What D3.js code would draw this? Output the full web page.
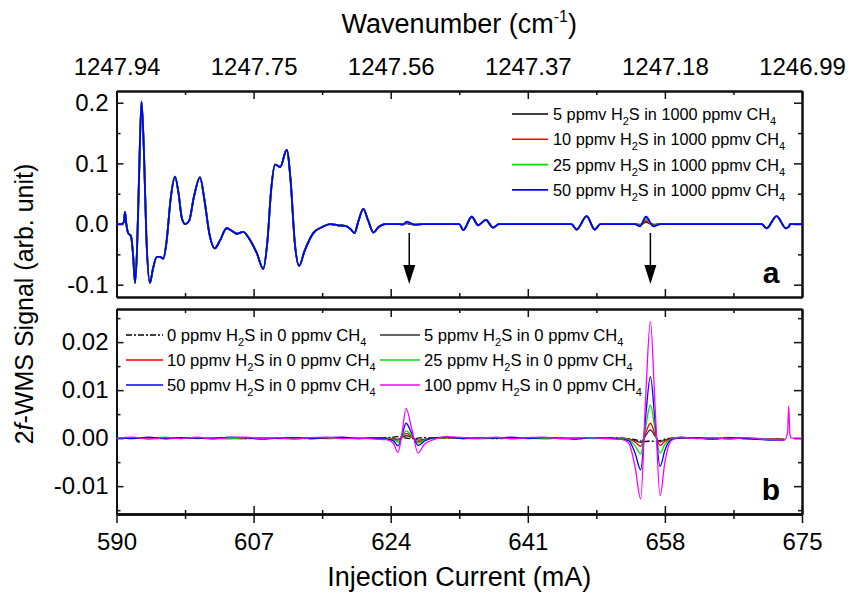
<!DOCTYPE html>
<html>
<head>
<meta charset="utf-8">
<script src="https://cdn.jsdelivr.net/npm/d3@7"></script>
<style>
  body { margin: 0; background: #fff; }
  text { font-family: Arial, "Liberation Sans", sans-serif; }
</style>
</head>
<body>
<svg id="chart" width="849" height="592"></svg>
<script>
// ---- axis ticks ----
const currentTicks = [590, 607, 624, 641, 658, 675]
const currentMinor = [598.5, 615.5, 632.5, 649.5, 666.5]
const wavenumberTicks = ['1247.94', '1247.75', '1247.56', '1247.37', '1247.18', '1246.99']
const aTicks = [-0.1, 0, 0.1, 0.2]
const aMinor = [-0.05, 0.05, 0.15]
const bTicks = [-0.01, 0, 0.01, 0.02]
const bMinor = [-0.015, -0.005, 0.005, 0.015, 0.025]

// ---- panel a: H2S in 1000 ppmv CH4 ----
const aCurrent = [590.0, 590.6, 590.9, 591.05, 591.2, 591.45, 591.8, 592.05, 592.3, 592.55,
  592.8, 593.1, 593.4, 593.7, 594.15, 594.5, 595.0, 595.4, 595.8, 596.2,
  596.7, 597.25, 597.7, 598.1, 598.5, 599.0, 599.6, 600.35, 600.9, 601.5,
  602.2, 602.8, 603.65, 604.3, 604.9, 605.7, 606.5, 607.4, 608.2, 608.7,
  609.2, 609.65, 610.3, 611.1, 611.6, 612.1, 612.65, 613.3, 614.4, 615.5,
  616.5, 617.4, 618.35, 619.0, 619.5, 620.0, 620.6, 621.2, 621.85, 622.5,
  623.3, 625.0, 625.5, 626.0, 626.5, 627.0, 628.0, 632.5, 633.0, 634.05,
  634.85, 635.8, 636.7, 637.4, 646.4, 647.05, 648.3, 649.3, 650.0, 654.3,
  654.9, 655.65, 656.6, 657.4, 670.0, 670.6, 671.85, 673.0, 673.4, 673.5, 675.0]
const aH2S5 = [0.000, 0.000, 0.003, 0.020, 0.002, -0.015, -0.020, -0.050, -0.097, -0.040,
  0.080, 0.202, 0.120, -0.020, -0.097, -0.075, -0.054, -0.054, -0.057, -0.030,
  0.040, 0.078, 0.050, 0.010, 0.000, 0.005, 0.045, 0.077, 0.040, -0.015,
  -0.040, -0.028, -0.007, -0.011, -0.016, -0.013, -0.025, -0.048, -0.074, -0.030,
  0.060, 0.098, 0.094, 0.122, 0.070, -0.030, -0.069, -0.045, -0.015, -0.005,
  0.000, -0.002, -0.003, -0.008, -0.015, 0.005, 0.025, 0.006, -0.014, -0.005,
  0.000, 0.000, 0.000, 0.001, 0.000, -0.001, 0.000, 0.000, -0.010, 0.012,
  -0.002, 0.007, -0.006, 0.000, 0.000, -0.009, 0.013, -0.009, 0.000, 0.000,
  -0.001, 0.003, -0.001, 0.000, 0.000, -0.007, 0.013, -0.007, -0.004, 0.000, 0.000]
const aH2S10 = [0.000, 0.000, 0.003, 0.020, 0.002, -0.015, -0.020, -0.050, -0.097, -0.040,
  0.080, 0.202, 0.120, -0.020, -0.097, -0.075, -0.054, -0.054, -0.057, -0.030,
  0.040, 0.078, 0.050, 0.010, 0.000, 0.005, 0.045, 0.077, 0.040, -0.015,
  -0.040, -0.028, -0.007, -0.011, -0.016, -0.013, -0.025, -0.048, -0.074, -0.030,
  0.060, 0.098, 0.094, 0.122, 0.070, -0.030, -0.069, -0.045, -0.015, -0.005,
  0.000, -0.002, -0.003, -0.008, -0.015, 0.005, 0.025, 0.006, -0.014, -0.005,
  0.000, 0.000, -0.0005, 0.002, 0.0005, -0.001, 0.000, 0.000, -0.010, 0.012,
  -0.002, 0.007, -0.006, 0.000, 0.000, -0.009, 0.013, -0.009, 0.000, 0.000,
  -0.002, 0.005, -0.002, 0.000, 0.000, -0.007, 0.013, -0.007, -0.004, 0.000, 0.000]
const aH2S25 = [0.000, 0.000, 0.003, 0.020, 0.002, -0.015, -0.020, -0.050, -0.097, -0.040,
  0.080, 0.202, 0.120, -0.020, -0.097, -0.075, -0.054, -0.054, -0.057, -0.030,
  0.040, 0.078, 0.050, 0.010, 0.000, 0.005, 0.045, 0.077, 0.040, -0.015,
  -0.040, -0.028, -0.007, -0.011, -0.016, -0.013, -0.025, -0.048, -0.074, -0.030,
  0.060, 0.098, 0.094, 0.122, 0.070, -0.030, -0.069, -0.045, -0.015, -0.005,
  0.000, -0.002, -0.003, -0.008, -0.015, 0.005, 0.025, 0.006, -0.014, -0.005,
  0.000, 0.000, -0.001, 0.003, 0.001, -0.001, 0.000, 0.000, -0.010, 0.012,
  -0.002, 0.007, -0.006, 0.000, 0.000, -0.009, 0.013, -0.009, 0.000, 0.000,
  -0.003, 0.009, -0.003, 0.000, 0.000, -0.007, 0.013, -0.007, -0.004, 0.000, 0.000]
const aH2S50 = [0.000, 0.000, 0.003, 0.020, 0.002, -0.015, -0.020, -0.050, -0.097, -0.040,
  0.080, 0.202, 0.120, -0.020, -0.097, -0.075, -0.054, -0.054, -0.057, -0.030,
  0.040, 0.078, 0.050, 0.010, 0.000, 0.005, 0.045, 0.077, 0.040, -0.015,
  -0.040, -0.028, -0.007, -0.011, -0.016, -0.013, -0.025, -0.048, -0.074, -0.030,
  0.060, 0.098, 0.094, 0.122, 0.070, -0.030, -0.069, -0.045, -0.015, -0.005,
  0.000, -0.002, -0.003, -0.008, -0.015, 0.005, 0.025, 0.006, -0.014, -0.005,
  0.000, 0.000, -0.001, 0.004, 0.001, -0.001, 0.000, 0.000, -0.010, 0.012,
  -0.002, 0.007, -0.006, 0.000, 0.000, -0.009, 0.013, -0.009, 0.000, 0.000,
  -0.004, 0.012, -0.004, 0.000, 0.000, -0.007, 0.013, -0.007, -0.004, 0.000, 0.000]
const aLabels = ['5 ppmv H_2S in 1000 ppmv CH_4', '10 ppmv H_2S in 1000 ppmv CH_4',
  '25 ppmv H_2S in 1000 ppmv CH_4', '50 ppmv H_2S in 1000 ppmv CH_4']
const aColors = ['#000000', '#ff0000', '#00e000', '#0000ff']
const arrowsAt = [626.3, 656.2]

// ---- panel b: H2S in 0 ppmv CH4 ----
const bCurrent = [590, 592, 594, 596, 598, 600, 602, 604, 606, 608,
  610, 612, 614, 616, 618, 620, 622, 623.5, 624.3, 624.9,
  625.4, 625.9, 626.6, 627.4, 628.2, 629.5, 631, 633, 635, 637,
  639, 641, 643, 645, 647, 649, 651, 652.5, 653.5, 654.3,
  655.0, 655.6, 656.2, 656.8, 657.4, 658.0, 658.8, 660, 662, 664,
  666, 668, 670, 671.5, 672.8, 673.2, 673.35, 673.5, 673.7, 674, 675]
const bH2S0 = [0.0000, 0.0001, 0.0000, -0.0001, 0.0001, 0.0000, 0.0001, 0.0000, -0.0001, 0.0000,
  0.0001, 0.0000, -0.0001, 0.0000, 0.0001, 0.0000, 0.0000, 0.0001, 0.0002, 0.0003,
  0.0002, 0.0000, -0.0001, 0.0000, 0.0001, 0.0000, 0.0000, 0.0001, 0.0000, -0.0001,
  0.0000, 0.0001, 0.0000, 0.0000, -0.0001, 0.0000, 0.0001, 0.0000, -0.0001, -0.0003,
  -0.0006, -0.0007, -0.0006, -0.0007, -0.0005, -0.0002, 0.0000, 0.0001, 0.0000, -0.0001,
  0.0000, -0.0001, -0.0001, -0.0002, -0.0002, null, null, null, null, null, null]
const bH2S5 = [0.0001, 0.0000, 0.0001, -0.0001, 0.0000, 0.0001, 0.0000, -0.0001, 0.0000, 0.0001,
  0.0000, -0.0001, 0.0000, 0.0001, 0.0000, -0.0001, 0.0001, 0.0000, -0.0001, -0.0002,
  0.0001, 0.0005, 0.0002, -0.0004, -0.0002, 0.0000, 0.0001, 0.0000, -0.0001, 0.0000,
  0.0001, 0.0000, -0.0001, 0.0000, 0.0001, 0.0000, -0.0001, 0.0000, -0.0002, -0.0005,
  -0.0009, 0.0005, 0.0017, 0.0004, -0.0008, -0.0004, -0.0001, 0.0000, 0.0001, 0.0000,
  -0.0001, 0.0000, -0.0001, -0.0002, -0.0002, null, null, null, null, null, null]
const bH2S10 = [0.0000, 0.0001, -0.0001, 0.0000, 0.0001, -0.0001, 0.0001, 0.0000, -0.0001, 0.0001,
  -0.0001, 0.0000, 0.0001, -0.0001, 0.0000, 0.0001, 0.0000, -0.0001, -0.0002, -0.0004,
  0.0001, 0.0010, 0.0003, -0.0008, -0.0003, 0.0000, 0.0001, -0.0001, 0.0000, 0.0001,
  -0.0001, 0.0000, 0.0001, -0.0001, 0.0000, 0.0001, 0.0000, -0.0001, -0.0002, -0.0008,
  -0.0017, 0.0010, 0.0031, 0.0007, -0.0015, -0.0007, -0.0001, 0.0001, 0.0000, -0.0001,
  0.0000, -0.0001, -0.0002, -0.0002, -0.0003, null, null, null, null, null, null]
const bH2S25 = [-0.0001, 0.0001, 0.0000, 0.0002, -0.0001, 0.0001, 0.0000, -0.0001, 0.0001, 0.0000,
  0.0001, -0.0001, 0.0000, 0.0001, -0.0001, 0.0001, -0.0001, -0.0001, -0.0003, -0.0008,
  0.0002, 0.0015, 0.0005, -0.0010, -0.0004, 0.0000, 0.0001, 0.0000, -0.0001, 0.0001,
  0.0000, 0.0001, -0.0001, 0.0000, 0.0001, -0.0001, 0.0000, -0.0001, -0.0003, -0.0016,
  -0.0033, 0.0022, 0.0069, 0.0016, -0.0031, -0.0013, -0.0002, 0.0002, -0.0001, 0.0000,
  -0.0001, 0.0000, -0.0002, -0.0003, -0.0003, null, null, null, null, null, null]
const bH2S50 = [0.0001, -0.0001, 0.0002, -0.0001, 0.0001, 0.0000, -0.0001, 0.0002, 0.0001, -0.0002,
  0.0000, 0.0001, -0.0001, 0.0001, 0.0002, -0.0001, 0.0000, -0.0002, -0.0005, -0.0016,
  0.0005, 0.0031, 0.0010, -0.0015, -0.0006, 0.0001, 0.0002, -0.0001, 0.0001, 0.0000,
  0.0002, -0.0001, 0.0001, 0.0000, -0.0002, 0.0001, 0.0000, -0.0002, -0.0005, -0.0031,
  -0.0066, 0.0042, 0.0128, 0.0031, -0.0059, -0.0025, -0.0003, 0.0001, 0.0000, -0.0002,
  0.0001, -0.0001, -0.0003, -0.0004, -0.0004, null, null, null, null, null, null]
const bH2S100 = [0.0000, 0.0002, -0.0002, 0.0001, -0.0001, 0.0002, -0.0002, 0.0001, 0.0002, -0.0001,
  0.0001, -0.0002, 0.0001, 0.0002, -0.0001, 0.0000, -0.0002, -0.0003, -0.0010, -0.0030,
  0.0010, 0.0062, 0.0020, -0.0031, -0.0012, -0.0002, 0.0003, 0.0001, 0.0000, 0.0002,
  -0.0001, 0.0001, 0.0002, -0.0001, 0.0000, 0.0001, -0.0001, -0.0002, -0.0010, -0.0060,
  -0.0127, 0.0080, 0.0243, 0.0060, -0.0120, -0.0050, -0.0005, 0.0002, -0.0001, 0.0001,
  -0.0002, 0.0001, -0.0002, -0.0003, -0.0004, 0.0010, 0.0067, 0.0008, 0.0000, 0.0000, 0.0000]
const bLabels = ['0 ppmv H_2S in 0 ppmv CH_4', '5 ppmv H_2S in 0 ppmv CH_4',
  '10 ppmv H_2S in 0 ppmv CH_4', '25 ppmv H_2S in 0 ppmv CH_4',
  '50 ppmv H_2S in 0 ppmv CH_4', '100 ppmv H_2S in 0 ppmv CH_4']
const bColors = ['#000000', '#333333', '#ff0000', '#00e000', '#0000ff', '#ff00ff']

// ---- layout ----
const left = 116.5, right = 802
const aTop = 91, aBottom = 297
const bTop = 309, bBottom = 514

const svg = d3.select('#chart')

const x = d3.scaleLinear().domain([590, 675]).range([left, right])
const yA = d3.scaleLinear().domain([-0.1203, 0.2193]).range([aBottom, aTop])
const yB = d3.scaleLinear().domain([-0.0158, 0.0269]).range([bBottom, bTop])

const fmt = spec => d => d3.format(spec)(d).replace('\u2212', '-')

function styleAxis(g, fontSize) {
  g.attr('font-family', 'Arial, "Liberation Sans", sans-serif').attr('font-size', fontSize)
  g.selectAll('.domain').attr('stroke', '#111').attr('stroke-width', 2)
  g.selectAll('.tick line').attr('stroke', '#111').attr('stroke-width', 1.5)
  g.selectAll('.tick text').attr('fill', '#000')
}

function addAxis(axis, transform, fontSize = 24) {
  svg.append('g').attr('transform', transform).call(axis).call(g => styleAxis(g, fontSize))
}

function frame(y, top, bottom, yMajor, yMinor, yFormat, topLabels, bottomLabels) {
  // left
  addAxis(d3.axisLeft(y).tickValues(yMajor).tickSizeInner(-7).tickSizeOuter(0).tickPadding(8).tickFormat(yFormat), `translate(${left},0)`)
  addAxis(d3.axisLeft(y).tickValues(yMinor).tickSizeInner(-4).tickSizeOuter(0).tickFormat(''), `translate(${left},0)`)
  // right
  addAxis(d3.axisRight(y).tickValues(yMajor).tickSizeInner(-8).tickSizeOuter(0).tickFormat(''), `translate(${right},0)`)
  addAxis(d3.axisRight(y).tickValues(yMinor).tickSizeInner(-4).tickSizeOuter(0).tickFormat(''), `translate(${right},0)`)
  // top
  const topAxis = d3.axisTop(x).tickValues(currentTicks).tickSizeInner(-8).tickSizeOuter(0)
  if (topLabels) topAxis.tickPadding(16).tickFormat((d, i) => topLabels[i])
  else topAxis.tickFormat('')
  addAxis(topAxis, `translate(0,${top})`)
  addAxis(d3.axisTop(x).tickValues(currentMinor).tickSizeInner(-4).tickSizeOuter(0).tickFormat(''), `translate(0,${top})`)
  // bottom
  addAxis(d3.axisBottom(x).tickValues(currentTicks).tickSizeInner(-8).tickSizeOuter(0).tickFormat(''), `translate(0,${bottom})`)
  addAxis(d3.axisBottom(x).tickValues(currentMinor).tickSizeInner(-4).tickSizeOuter(0).tickFormat(''), `translate(0,${bottom})`)
  if (bottomLabels) {
    addAxis(d3.axisBottom(x).tickValues(currentTicks).tickSizeInner(9).tickSizeOuter(0).tickPadding(10).tickFormat(d3.format('d')), `translate(0,${bottom})`)
    addAxis(d3.axisBottom(x).tickValues(currentMinor).tickSizeInner(5).tickSizeOuter(0).tickFormat(''), `translate(0,${bottom})`)
  }
}

frame(yA, aTop, aBottom, aTicks, aMinor, fmt('.1f'), wavenumberTicks, false)
frame(yB, bTop, bBottom, bTicks, bMinor, fmt('.2f'), null, true)

// clip regions
const defs = svg.append('defs')
defs.append('clipPath').attr('id', 'clipA').append('rect')
  .attr('x', left).attr('y', aTop).attr('width', right - left).attr('height', aBottom - aTop)
defs.append('clipPath').attr('id', 'clipB').append('rect')
  .attr('x', left).attr('y', bTop).attr('width', right - left).attr('height', bBottom - bTop)

// ---- series ----
const lineA = d3.line().defined(d => d[1] != null)
  .x(d => x(d[0])).y(d => yA(d[1])).curve(d3.curveMonotoneX)
const lineB = d3.line().defined(d => d[1] != null)
  .x(d => x(d[0])).y(d => yB(d[1])).curve(d3.curveMonotoneX)

const aSeries = [aH2S5, aH2S10, aH2S25, aH2S50]
svg.append('g').attr('clip-path', 'url(#clipA)')
  .selectAll('path')
  .data(aSeries)
  .join('path')
  .attr('d', values => lineA(aCurrent.map((c, i) => [c, values[i]])))
  .attr('fill', 'none')
  .attr('stroke', (d, i) => aColors[i])
  .attr('stroke-width', 1.8)
  .attr('stroke-linejoin', 'round')

const bSeries = [bH2S0, bH2S5, bH2S10, bH2S25, bH2S50, bH2S100]
svg.append('g').attr('clip-path', 'url(#clipB)')
  .selectAll('path')
  .data(bSeries)
  .join('path')
  .attr('d', values => lineB(bCurrent.map((c, i) => [c, values[i]])))
  .attr('fill', 'none')
  .attr('stroke', (d, i) => bColors[i])
  .attr('stroke-width', 1.3)
  .attr('stroke-dasharray', (d, i) => i === 0 ? '6,2,2,2' : null)
  .attr('stroke-linejoin', 'round')

// ---- arrows (panel a) ----
const arrows = svg.append('g')
arrows.selectAll('line').data(arrowsAt).join('line')
  .attr('x1', d => x(d)).attr('x2', d => x(d))
  .attr('y1', 233).attr('y2', 268)
  .attr('stroke', '#000').attr('stroke-width', 1.5)
arrows.selectAll('path').data(arrowsAt).join('path')
  .attr('d', d => `M${x(d) - 6},265 L${x(d) + 6},265 L${x(d)},284 Z`)
  .attr('fill', '#000')

// ---- legends ----
function richText(sel, label, subSize) {
  label.split(/_(\d)/).forEach((part, i) => {
    if (i % 2 === 1) {
      sel.append('tspan').attr('font-size', subSize).attr('dy', 5).text(part)
    } else if (part) {
      sel.append('tspan').attr('dy', i === 0 ? 0 : -5).text(part)
    }
  })
}

const legendA = svg.append('g')
aLabels.forEach((label, i) => {
  const yy = 114 + i * 25.3
  legendA.append('line').attr('x1', 512).attr('x2', 548).attr('y1', yy).attr('y2', yy)
    .attr('stroke', aColors[i]).attr('stroke-width', 1.6)
  const t = legendA.append('text').attr('x', 553).attr('y', yy + 6).attr('font-size', 16.3)
  richText(t, label, 11)
})

const legendB = svg.append('g')
bLabels.forEach((label, i) => {
  const col = i % 2, row = Math.floor(i / 2)
  const yy = 335 + row * 25
  const x1 = col === 0 ? 126 : 380
  const x2 = col === 0 ? 163 : 420
  legendB.append('line').attr('x1', x1).attr('x2', x2).attr('y1', yy).attr('y2', yy)
    .attr('stroke', bColors[i]).attr('stroke-width', 1.3)
    .attr('stroke-dasharray', i === 0 ? '6,2,2,2' : null)
  const t = legendB.append('text').attr('x', x2 + 4).attr('y', yy + 6).attr('font-size', 16.6)
  richText(t, label, 11)
})

// ---- panel letters ----
svg.append('text').attr('x', 771).attr('y', 283).attr('text-anchor', 'middle')
  .attr('font-size', 30).attr('font-weight', 'bold').text('a')
svg.append('text').attr('x', 771).attr('y', 500).attr('text-anchor', 'middle')
  .attr('font-size', 30).attr('font-weight', 'bold').text('b')

// ---- axis titles ----
const topTitle = svg.append('text').attr('x', (left + right) / 2).attr('y', 33)
  .attr('text-anchor', 'middle').attr('font-size', 27)
topTitle.append('tspan').text('Wavenumber (cm')
topTitle.append('tspan').attr('font-size', 16).attr('dy', -11).text('-1')
topTitle.append('tspan').attr('dy', 11).text(')')

svg.append('text').attr('x', (left + right) / 2).attr('y', 586)
  .attr('text-anchor', 'middle').attr('font-size', 27).text('Injection Current (mA)')

const yTitle = svg.append('text')
  .attr('transform', 'rotate(-90)')
  .attr('x', -304).attr('y', 33)
  .attr('text-anchor', 'middle').attr('font-size', 25)
yTitle.append('tspan').text('2')
yTitle.append('tspan').attr('font-style', 'italic').text('f')
yTitle.append('tspan').text('-WMS Signal (arb. unit)')
</script>
</body>
</html>
